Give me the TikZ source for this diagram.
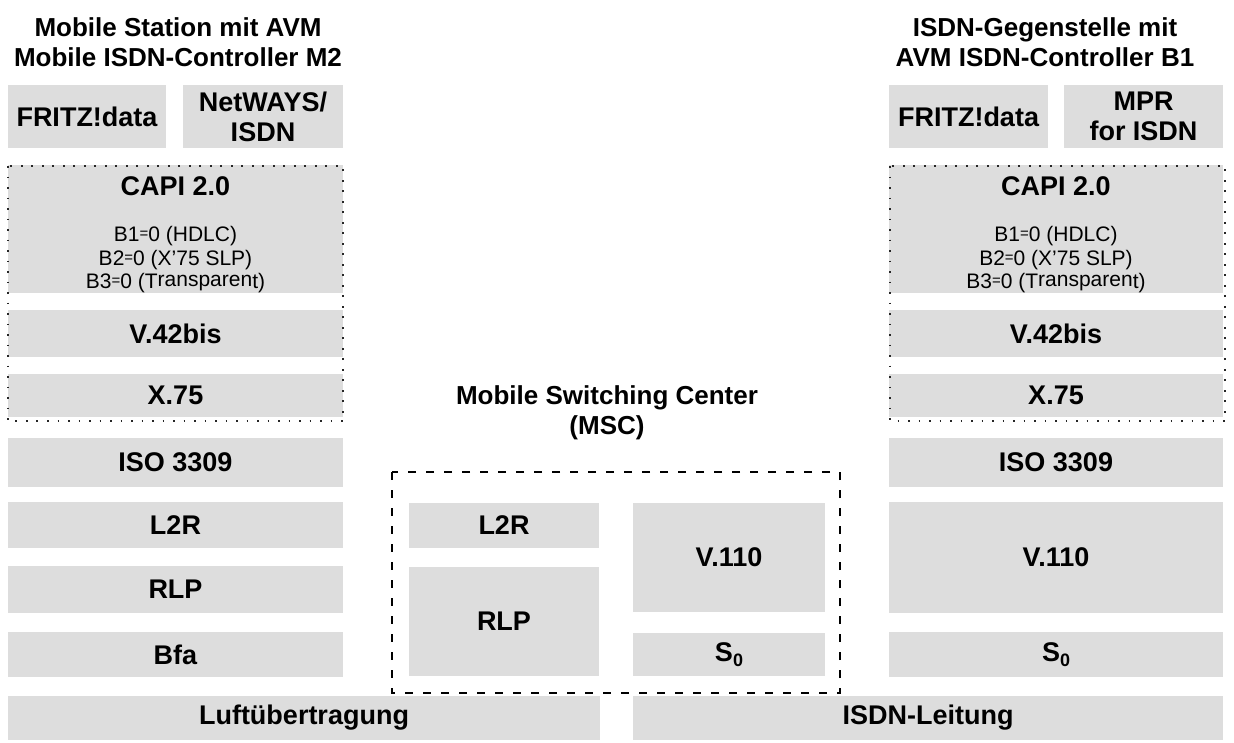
\documentclass[tikz,border=0pt]{standalone}
\usepackage{fontspec}
\setmainfont{Liberation Sans}
\definecolor{boxgray}{RGB}{221,221,221}
\newcommand{\sEq}{\raisebox{3pt}{\fontsize{15}{15}\selectfont=}}
\newcommand{\subz}{\raisebox{-5pt}{\fontsize{18}{18}\selectfont 0}}
\begin{document}
\begin{tikzpicture}[x=1pt,y=-1pt,
  layer/.style={fill=boxgray, draw=none, inner sep=0pt, align=center,
    font=\fontsize{27}{30}\selectfont\bfseries},
  title/.style={inner sep=0pt, align=center, font=\fontsize{26}{30}\selectfont\bfseries},
  label/.style={inner sep=0pt, align=center},
  capiline/.style={inner sep=0pt, align=center, font=\fontsize{21}{23.5}\selectfont},
  dotframe/.style={draw=black!85, line width=2.2pt, dash pattern=on 1.8pt off 8.7pt},
  dashframe/.style={draw=black, line width=2.4pt, dash pattern=on 8pt off 10pt}]
\useasboundingbox (0,0) rectangle (1234,742);

% titles
\node[title] (tL) at (178,42) {Mobile Station mit AVM\\Mobile ISDN-Controller M2};
\node[title] (tR) at (1045,42) {ISDN-Gegenstelle mit\\AVM ISDN-Controller B1};
\node[title] (tM) at (607,413) {Mobile Switching Center\\(MSC)};

% left column
\node[layer, minimum width=158, minimum height=63] (fritzL) at (87,116.5) {FRITZ!data};
\node[layer, minimum width=160, minimum height=63] (netL) at (263,116.5) {NetWAYS/\\ISDN};
\node[layer, minimum width=335, minimum height=128] (capiL) at (175.5,229) {};
\node[label, font=\fontsize{27}{30}\selectfont\bfseries] (capiLt) at (175.5,186) {CAPI 2.0};
\node[capiline] (capiLb) at (175.5,260) {B1\sEq0 (HDLC)\\B2\sEq0 (X’75 SLP)\\B3\sEq0 (T\raisebox{2pt}{ransparen}t)};
\node[layer, minimum width=335, minimum height=47] (v42L) at (175.5,333.5) {V.42bis};
\node[layer, minimum width=335, minimum height=43] (x75L) at (175.5,395.5) {X.75};
\node[layer, minimum width=335, minimum height=49] (isoL) at (175.5,462.5) {ISO 3309};
\node[layer, minimum width=335, minimum height=46] (l2rL) at (175.5,525) {L2R};
\node[layer, minimum width=335, minimum height=47] (rlpL) at (175.5,589.5) {RLP};
\node[layer, minimum width=335, minimum height=45] (bfaL) at (175.5,654.5) {Bfa};
\node[layer, minimum width=592, minimum height=44] (luft) at (304,718) {Luftübertragung};
\draw[dotframe] (8,166) rectangle (343,421);

% right column
\node[layer, minimum width=159, minimum height=63] (fritzR) at (968.5,116.5) {FRITZ!data};
\node[layer, minimum width=159, minimum height=63] (mprR) at (1143.5,116.5) {MPR\\for ISDN};
\node[layer, minimum width=334, minimum height=128] (capiR) at (1056,229) {};
\node[label, font=\fontsize{27}{30}\selectfont\bfseries] (capiRt) at (1056,186) {CAPI 2.0};
\node[capiline] (capiRb) at (1056,260) {B1\sEq0 (HDLC)\\B2\sEq0 (X’75 SLP)\\B3\sEq0 (T\raisebox{2pt}{ransparen}t)};
\node[layer, minimum width=334, minimum height=47] (v42R) at (1056,333.5) {V.42bis};
\node[layer, minimum width=334, minimum height=43] (x75R) at (1056,395.5) {X.75};
\node[layer, minimum width=334, minimum height=49] (isoR) at (1056,462.5) {ISO 3309};
\node[layer, minimum width=334, minimum height=111] (v110R) at (1056,557.5) {V.110};
\node[layer, minimum width=334, minimum height=45] (s0R) at (1056,654.5) {S\subz};
\node[layer, minimum width=590, minimum height=44] (isdn) at (928,718) {ISDN-Leitung};
\draw[dotframe] (890,166) rectangle (1225,421);

% MSC
\node[layer, minimum width=190, minimum height=45] (l2rM) at (504,525.5) {L2R};
\node[layer, minimum width=190, minimum height=109] (rlpM) at (504,621.5) {RLP};
\node[layer, minimum width=192, minimum height=109] (v110M) at (729,557.5) {V.110};
\node[layer, minimum width=192, minimum height=43] (s0M) at (729,654.5) {S\subz};
\draw[dashframe] (392,472) rectangle (840,693);
\end{tikzpicture}
\end{document}
